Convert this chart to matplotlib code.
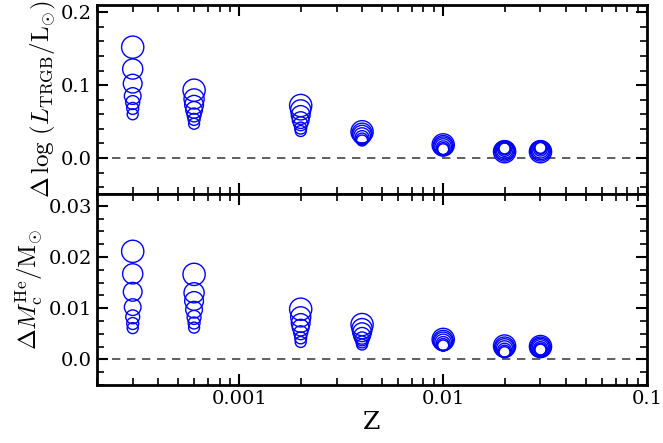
import numpy as np
import matplotlib
matplotlib.use("Agg")
import matplotlib.pyplot as plt
from matplotlib.ticker import MultipleLocator, FixedLocator, LogLocator, NullFormatter

plt.rcParams["font.family"] = "DejaVu Serif"
plt.rcParams["mathtext.fontset"] = "cm"

# metallicities
Z = [0.0003, 0.0006, 0.002, 0.004, 0.01, 0.02, 0.03]

# marker size (diameter, pt) per model, largest to smallest
msizes = [16, 14.5, 13.5, 12, 10, 8.6, 7.9]

# delta log L_TRGB, one row per Z, same order as msizes
dlogL = [
    [0.152, 0.122, 0.102, 0.085, 0.076, 0.068, 0.060],
    [0.093, 0.081, 0.073, 0.066, 0.059, 0.053, 0.047],
    [0.072, 0.066, 0.059, 0.052, 0.047, 0.041, 0.037],
    [0.036, 0.034, 0.032, 0.030, 0.028, 0.026, 0.024],
    [0.018, 0.017, 0.016, 0.015, 0.014, 0.013, 0.012],
    [0.0087, 0.0095, 0.0103, 0.0111, 0.0118, 0.0125, 0.0132],
    [0.0087, 0.0096, 0.0105, 0.0114, 0.0123, 0.0132, 0.0140],
]

# delta M_c^He / Msun
dMc = [
    [0.0211, 0.0167, 0.0132, 0.0102, 0.0083, 0.0070, 0.0061],
    [0.0166, 0.0130, 0.0114, 0.0097, 0.0082, 0.0071, 0.0062],
    [0.0098, 0.0083, 0.0071, 0.0062, 0.0052, 0.0042, 0.0034],
    [0.0068, 0.0060, 0.0053, 0.0046, 0.0040, 0.0034, 0.0029],
    [0.0039, 0.0037, 0.0035, 0.0033, 0.0031, 0.0029, 0.0027],
    [0.0026, 0.0024, 0.0022, 0.0020, 0.0018, 0.0016, 0.0014],
    [0.0025, 0.0024, 0.0023, 0.0022, 0.0021, 0.0020, 0.0019],
]

fig = plt.figure(figsize=(6.63, 4.43), dpi=100)
ax1 = fig.add_axes([0.146, 0.561, 0.83, 0.428])
ax2 = fig.add_axes([0.146, 0.131, 0.83, 0.430], sharex=ax1)

for ax, data in [(ax1, dlogL), (ax2, dMc)]:
    for z, vals in zip(Z, data):
        ax.scatter([z] * len(vals), vals, s=np.array(msizes) ** 2,
                   facecolors="none", edgecolors="#0000ff", linewidths=1.0, zorder=3)
    ax.axhline(0, color="#444444", ls=(0, (5, 4)), lw=1.2, zorder=1)
    ax.set_xscale("log")
    ax.set_xlim(2e-4, 0.1)
    ax.tick_params(which="both", direction="in", top=True, right=True, labelsize=14)
    ax.tick_params(which="major", length=8, width=1.5)
    ax.tick_params(which="minor", length=5, width=1.2)
    for sp in ax.spines.values():
        sp.set_linewidth(2)
    ax.xaxis.set_minor_locator(LogLocator(base=10, subs=np.arange(2, 10), numticks=20))
    ax.xaxis.set_minor_formatter(NullFormatter())

ax1.set_ylim(-0.05, 0.21)
ax1.yaxis.set_major_locator(FixedLocator([0.0, 0.1, 0.2]))
ax1.yaxis.set_minor_locator(MultipleLocator(0.02))
ax1.set_yticklabels(["0.0", "0.1", "0.2"])
plt.setp(ax1.get_xticklabels(), visible=False)
ax1.set_ylabel(r"$\Delta\,\log\,(L_{\rm TRGB}/{\rm L}_{\odot})$", fontsize=18, labelpad=2)

ax2.set_ylim(-0.005, 0.0322)
ax2.yaxis.set_major_locator(FixedLocator([0.0, 0.01, 0.02, 0.03]))
ax2.yaxis.set_minor_locator(MultipleLocator(0.0025))
ax2.set_yticklabels(["0.0", "0.01", "0.02", "0.03"])
ax2.xaxis.set_major_locator(FixedLocator([0.001, 0.01, 0.1]))
ax2.set_xticklabels(["0.001", "0.01", "0.1"])
ax2.set_ylabel(r"$\Delta M_{\rm c}^{\rm He}/{\rm M}_{\odot}$", fontsize=18, labelpad=2)
ax2.set_xlabel("Z", fontsize=18, labelpad=2)

fig.align_ylabels([ax1, ax2])
fig.savefig("out.png", dpi=100)
